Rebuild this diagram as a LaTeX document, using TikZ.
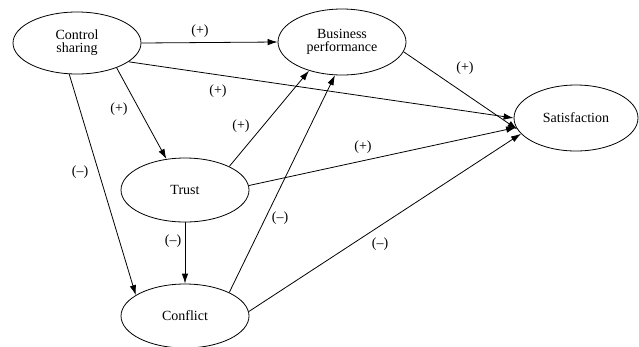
\documentclass[tikz,border=0pt]{standalone}
\usepackage{fontspec}
\setmainfont{Liberation Serif}
\usetikzlibrary{shapes.geometric,arrows.meta}
\tikzset{
  construct/.style={ellipse,draw,line width=0.8pt,inner sep=0pt,align=center,font=\fontsize{14}{15}\selectfont},
  link/.style={line width=0.8pt,-{Latex[length=10pt,width=6.5pt]}},
  sign/.style={font=\fontsize{14}{15}\selectfont,inner sep=0pt}
}
\begin{document}
\begin{tikzpicture}[x=1pt,y=-1pt]
\useasboundingbox (0,0) rectangle (639,346);
\node[construct,minimum width=128pt,minimum height=62pt] (cs) at (77,43) {Control\\[-2pt]sharing};
\node[construct,minimum width=128pt,minimum height=66pt] (bp) at (342,42) {Business\\[-2pt]performance};
\node[construct,minimum width=124pt,minimum height=66pt] (sat) at (576,118) {Satisfaction};
\node[construct,minimum width=128pt,minimum height=64pt] (tr) at (185,190) {Trust};
\node[construct,minimum width=128pt,minimum height=64pt] (cf) at (185,316) {Conflict};

\draw[link] (cs.east) -- (bp.west);
\draw[link] (cs.-20) -- (sat.180);
\draw[link] (cs.-32) -- (tr.121);
\draw[link] (cs.-104) -- (cf.157);
\draw[link] (tr.28) -- (bp.-139);
\draw[link] (tr.4) -- (sat.-171);
\draw[link] (tr.south) -- (cf.north);
\draw[link] (cf.28) -- (bp.-102);
\draw[link] (cf.4) -- (sat.-164);
\draw[link] (bp.-9) -- (sat.-169);

\node[sign] (l1) at (200,31) {(+)};
\node[sign] (l2) at (218,91) {(+)};
\node[sign] (l3) at (119,109) {(+)};
\node[sign] (l4) at (80,172) {(–)};
\node[sign] (l5) at (241,126) {(+)};
\node[sign] (l6) at (363,147) {(+)};
\node[sign] (l7) at (173,241) {(–)};
\node[sign] (l8) at (280,218) {(–)};
\node[sign] (l9) at (380,244) {(–)};
\node[sign] (l10) at (465,68) {(+)};
\end{tikzpicture}
\end{document}
